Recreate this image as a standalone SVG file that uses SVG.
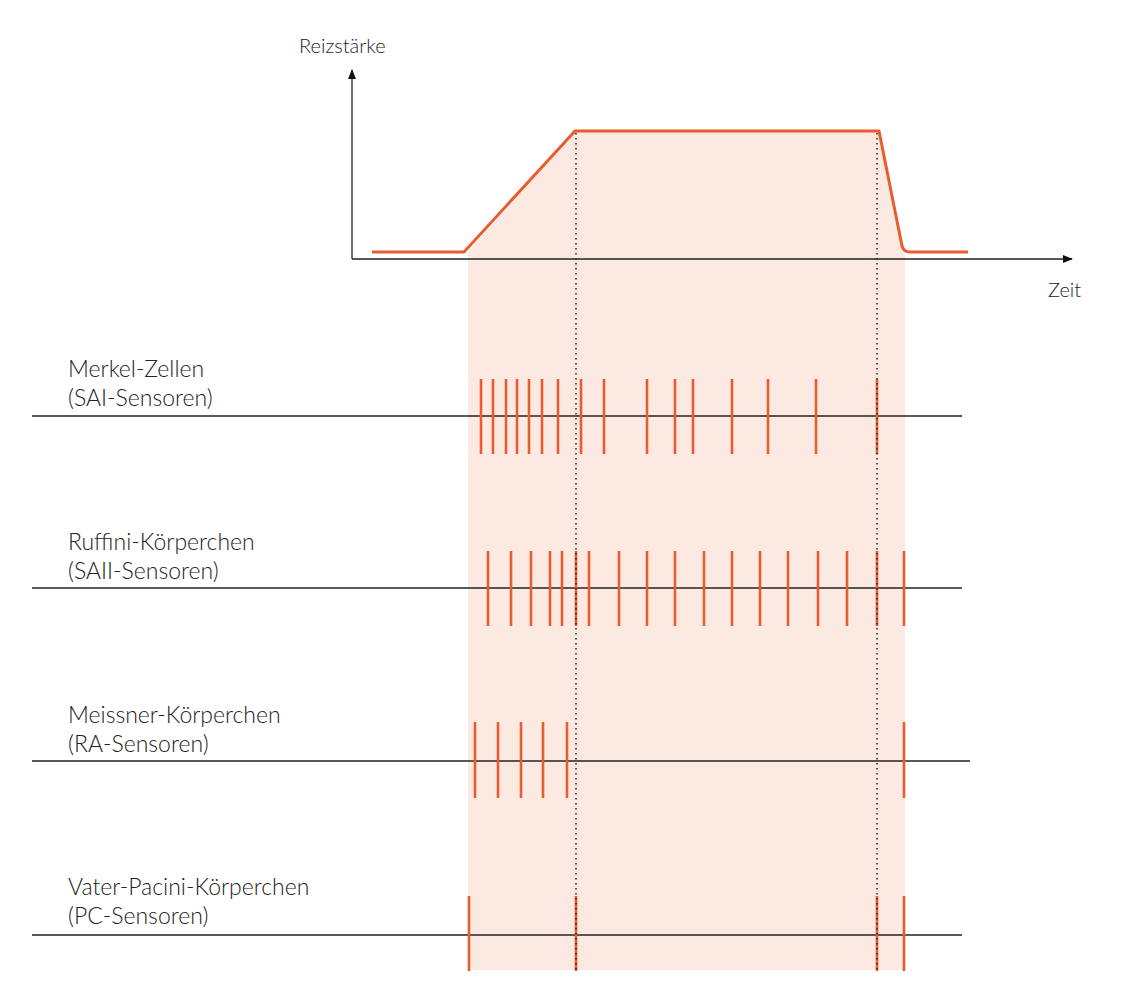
<svg xmlns="http://www.w3.org/2000/svg" width="1148" height="1000" viewBox="0 0 1148 1000">
<style>
text{font-family:Lato,"Open Sans",sans-serif;font-weight:300;fill:#222}
.lbl{font-size:23px}
.ax{font-size:20px}
.base{stroke:#222;stroke-width:1.3}
.sp line{stroke:#e85d2f;stroke-width:2.6}
.dot{stroke:#222;stroke-width:1.5;stroke-dasharray:1.5 3.5}
</style>
<defs><marker id="ar" viewBox="0 0 10 10" refX="9" refY="5" markerWidth="10" markerHeight="10" markerUnits="userSpaceOnUse" orient="auto"><path d="M0,1 L10,5 L0,9 Z" fill="#111"/></marker></defs>
<rect width="1148" height="1000" fill="#fff"/>
<polygon points="468,252 575,131 879,131 905,252 905,970 468,970" fill="#fce9e2"/>
<g id="axes">
<line x1="352" y1="259" x2="352" y2="70" class="base" marker-end="url(#ar)"/>
<line x1="352" y1="259" x2="1072" y2="259" class="base" marker-end="url(#ar)"/>
<text x="299" y="53" class="ax">Reizstärke</text>
<text x="1048" y="297" class="ax">Zeit</text>
</g>
<g id="stimulus"><path d="M372,252 L464,252 L575,131 L879,131 L902,246 Q904,252 910,252 L968,252" fill="none" stroke="#e85d2f" stroke-width="3" stroke-linejoin="round"/></g>
<g id="merkel">
<text x="68" y="377" class="lbl">Merkel-Zellen</text><text x="68" y="406" class="lbl">(SAI-Sensoren)</text>
<line x1="32" y1="416" x2="962" y2="416" class="base"/>
<g class="sp"><line x1="481" y1="379" x2="481" y2="454"/><line x1="493" y1="379" x2="493" y2="454"/><line x1="506" y1="379" x2="506" y2="454"/><line x1="517" y1="379" x2="517" y2="454"/><line x1="529" y1="379" x2="529" y2="454"/><line x1="542" y1="379" x2="542" y2="454"/><line x1="558" y1="379" x2="558" y2="454"/><line x1="581" y1="379" x2="581" y2="454"/><line x1="604" y1="379" x2="604" y2="454"/><line x1="647" y1="379" x2="647" y2="454"/><line x1="675" y1="379" x2="675" y2="454"/><line x1="693" y1="379" x2="693" y2="454"/><line x1="732" y1="379" x2="732" y2="454"/><line x1="768" y1="379" x2="768" y2="454"/><line x1="816" y1="379" x2="816" y2="454"/><line x1="877" y1="379" x2="877" y2="454"/></g>
</g>
<g id="ruffini">
<text x="68" y="550" class="lbl">Ruffini-Körperchen</text><text x="68" y="579" class="lbl">(SAII-Sensoren)</text>
<line x1="32" y1="588" x2="962" y2="588" class="base"/>
<g class="sp"><line x1="488" y1="551" x2="488" y2="626"/><line x1="511" y1="551" x2="511" y2="626"/><line x1="531" y1="551" x2="531" y2="626"/><line x1="550" y1="551" x2="550" y2="626"/><line x1="562" y1="551" x2="562" y2="626"/><line x1="576" y1="551" x2="576" y2="626"/><line x1="589" y1="551" x2="589" y2="626"/><line x1="619" y1="551" x2="619" y2="626"/><line x1="647" y1="551" x2="647" y2="626"/><line x1="675" y1="551" x2="675" y2="626"/><line x1="704" y1="551" x2="704" y2="626"/><line x1="732" y1="551" x2="732" y2="626"/><line x1="760" y1="551" x2="760" y2="626"/><line x1="788" y1="551" x2="788" y2="626"/><line x1="818" y1="551" x2="818" y2="626"/><line x1="847" y1="551" x2="847" y2="626"/><line x1="877" y1="551" x2="877" y2="626"/><line x1="904" y1="551" x2="904" y2="626"/></g>
</g>
<g id="meissner">
<text x="68" y="723" class="lbl">Meissner-Körperchen</text><text x="68" y="752" class="lbl">(RA-Sensoren)</text>
<line x1="32" y1="761" x2="970" y2="761" class="base"/>
<g class="sp"><line x1="475" y1="722" x2="475" y2="798"/><line x1="498" y1="722" x2="498" y2="798"/><line x1="521" y1="722" x2="521" y2="798"/><line x1="543" y1="722" x2="543" y2="798"/><line x1="567" y1="722" x2="567" y2="798"/><line x1="904" y1="722" x2="904" y2="798"/></g>
</g>
<g id="pacini">
<text x="68" y="895" class="lbl">Vater-Pacini-Körperchen</text><text x="68" y="924" class="lbl">(PC-Sensoren)</text>
<line x1="32" y1="935" x2="962" y2="935" class="base"/>
<g class="sp"><line x1="469" y1="896" x2="469" y2="971"/><line x1="576" y1="896" x2="576" y2="971"/><line x1="877" y1="896" x2="877" y2="971"/><line x1="904" y1="896" x2="904" y2="971"/></g>
</g>
<g id="connectors">
<line x1="576" y1="133" x2="576" y2="970" class="dot"/>
<line x1="877" y1="133" x2="877" y2="970" class="dot"/>
</g>
</svg>
